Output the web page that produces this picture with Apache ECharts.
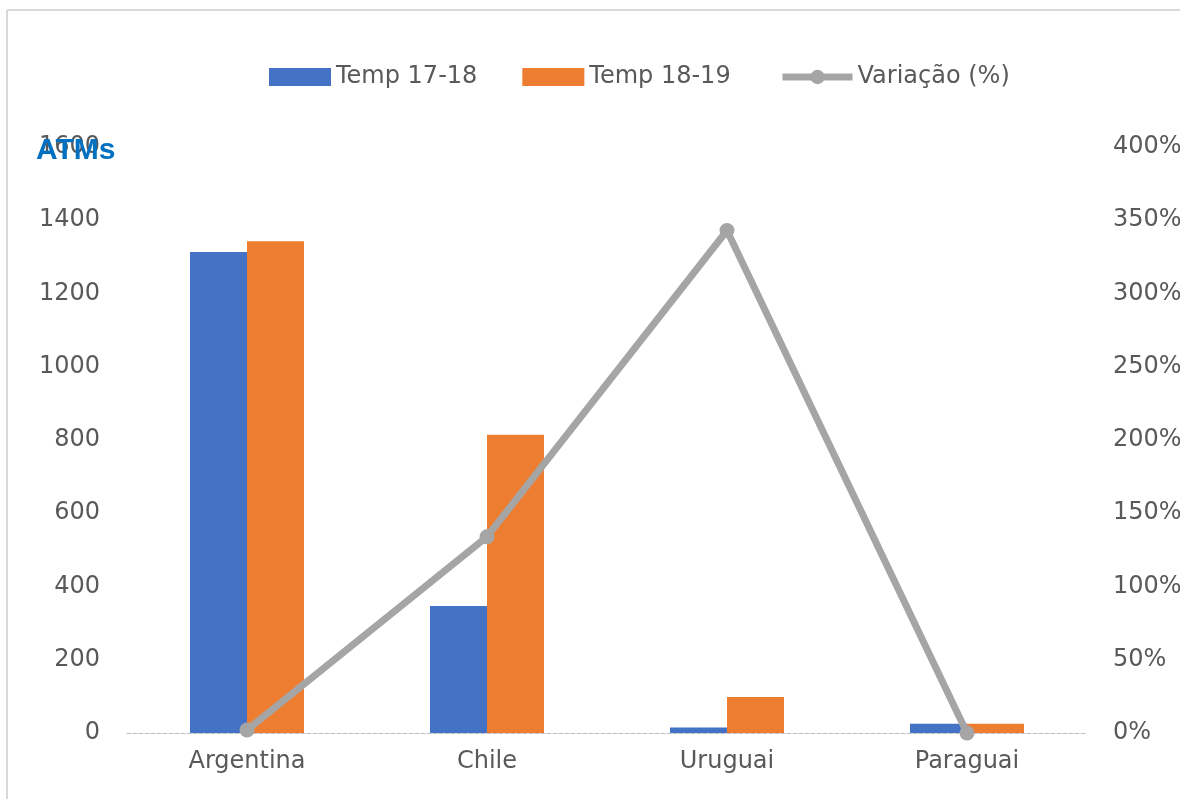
<!DOCTYPE html>
<html><head><meta charset="utf-8">
<script src="https://cdn.jsdelivr.net/npm/echarts@6/dist/echarts.min.js"></script>
<style>html,body{margin:0;padding:0;background:#fff;}#c{width:1180px;height:799px;}</style>
</head><body><div id="c"></div>
<script>
const categories = ['Argentina', 'Chile', 'Uruguai', 'Paraguai'];
const temp1718 = [1313, 347, 15, 25];
const temp1819 = [1343, 814, 98, 25];
const variacao = [2, 134, 343, 0];
const leftTicks = [0, 1600, 200];
const rightTicks = [0, 400, 50];

const font = 'DejaVu Sans';
const grey = '#595959';
const chart = echarts.init(document.getElementById('c'));
chart.setOption({
  animation: false,
  textStyle: { fontFamily: font },
  title: { text: 'ATMs', left: 31, top: 131, textStyle: { color: '#0070C0', fontSize: 30, fontWeight: 'bold', fontFamily: 'Liberation Sans' } },
  legend: [
    {
      top: 60, left: 264, itemWidth: 62, itemHeight: 18, itemGap: 45,
      textStyle: { color: grey, fontSize: 24, fontFamily: font },
      data: [
        { name: 'Temp 17-18', icon: 'rect' },
        { name: 'Temp 18-19', icon: 'rect' }
      ]
    },
    {
      top: 60, left: 774, itemWidth: 70, itemHeight: 18, itemGap: 2,
      textStyle: { color: grey, fontSize: 24, fontFamily: font },
      data: [
        { name: 'Variação (%)', lineStyle: { width: 7, color: '#A5A5A5' } }
      ]
    }
  ],
  grid: { left: 127, right: 93, top: 147, bottom: 66, outerBoundsMode: 'none', containLabel: false },
  xAxis: {
    type: 'category', data: categories,
    axisLine: { lineStyle: { color: '#BFBFBF', type: 'dashed', width: 1 } },
    axisTick: { show: false },
    axisLabel: { color: grey, fontSize: 24, margin: 17 }
  },
  yAxis: [
    { type: 'value', min: leftTicks[0], max: leftTicks[1], interval: leftTicks[2],
      splitLine: { show: false }, axisLine: { show: false }, axisTick: { show: false },
      axisLabel: { color: grey, fontSize: 24, margin: 27, formatter: v => String(v) } },
    { type: 'value', min: rightTicks[0], max: rightTicks[1], interval: rightTicks[2],
      splitLine: { show: false }, axisLine: { show: false }, axisTick: { show: false },
      axisLabel: { color: grey, fontSize: 24, margin: 26, formatter: '{value}%' } }
  ],
  series: [
    { name: 'Temp 17-18', type: 'bar', data: temp1718, barWidth: 57, barGap: '0%', itemStyle: { color: '#4472C4' } },
    { name: 'Temp 18-19', type: 'bar', data: temp1819, barWidth: 57, barGap: '0%', itemStyle: { color: '#ED7D31' } },
    { name: 'Variação (%)', type: 'line', yAxisIndex: 1, data: variacao,
      symbol: 'circle', symbolSize: 15, lineStyle: { color: '#A5A5A5', width: 7 },
      itemStyle: { color: '#A5A5A5' } }
  ],
  graphic: [
    { type: 'line', shape: { x1: 7, y1: 10, x2: 1180, y2: 10 }, style: { stroke: '#D9D9D9', lineWidth: 2 } },
    { type: 'line', shape: { x1: 7, y1: 10, x2: 7, y2: 799 }, style: { stroke: '#D9D9D9', lineWidth: 2 } }
  ]
});
</script></body></html>
